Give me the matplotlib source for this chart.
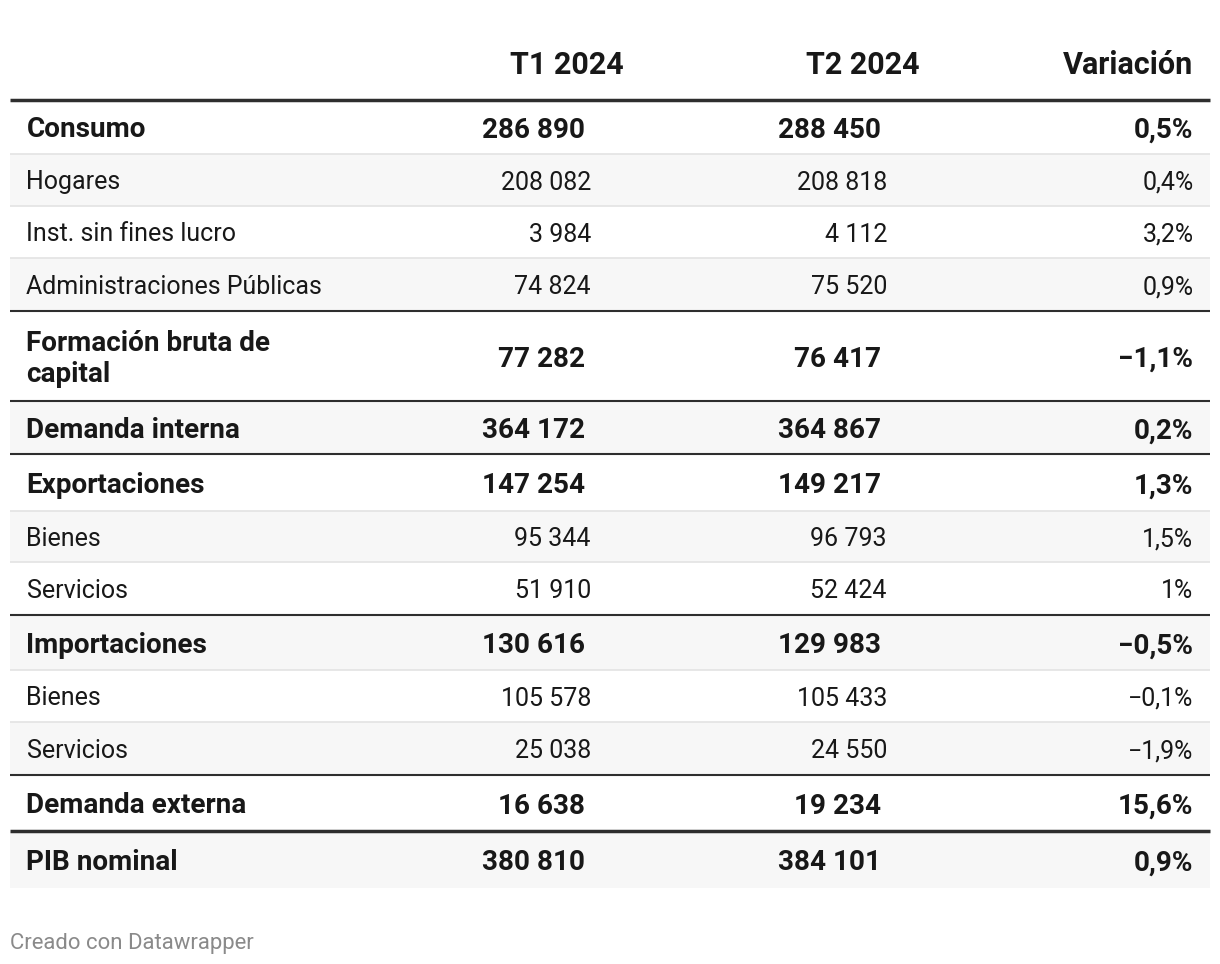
import matplotlib
matplotlib.use("Agg")
import matplotlib.pyplot as plt

plt.rcParams['font.family'] = ['Roboto', 'DejaVu Sans']

# ---- data -------------------------------------------------------------
columns = ["T1 2024", "T2 2024", "Variación"]
labels = ["Consumo", "Hogares", "Inst. sin fines lucro",
          "Administraciones Públicas", "Formación bruta de\ncapital",
          "Demanda interna", "Exportaciones", "Bienes", "Servicios",
          "Importaciones", "Bienes", "Servicios", "Demanda externa",
          "PIB nominal"]
t1 = [286890, 208082, 3984, 74824, 77282, 364172, 147254, 95344, 51910,
      130616, 105578, 25038, 16638, 380810]
t2 = [288450, 208818, 4112, 75520, 76417, 364867, 149217, 96793, 52424,
      129983, 105433, 24550, 19234, 384101]
variacion = [0.5, 0.4, 3.2, 0.9, -1.1, 0.2, 1.3, 1.5, 1.0, -0.5, -0.1, -1.9,
             15.6, 0.9]
bold = [True, False, False, False, True, True, True, False, False, True,
        False, False, True, True]

# ---- layout (pixels) ----------------------------------------------------
W, H = 1220, 964
left, right = 10, 1210
top = 100
row_h = [54, 52, 52, 53, 90, 53, 57, 51, 53, 55, 52, 53, 56, 57]
x_label = 26.5
x_t1 = {True: 585, False: 591}
x_t2 = {True: 881, False: 887}
x_var = 1193.5
head_right = [624, 920, 1193.5]

TXT = "#181818"
LINE_DARK = "#2e2e2e"
LINE_LIGHT = "#e3e3e3"
BG_ALT = "#f7f7f7"

fs_reg, fs_bold, fs_head = 18, 20.1, 22


def fmt_num(v):
    return "{:,}".format(v).replace(",", " ")


def fmt_pct(v):
    s = "{:.1f}".format(abs(v)).replace(".", ",")
    if s.endswith(",0"):
        s = s[:-2]
    return ("\u2212" if v < 0 else "") + s + "%"


def base_off(fs):
    # distance from cap centre to baseline, in pixels
    return 0.355 * fs * 100 / 72


fig = plt.figure(figsize=(W / 100, H / 100), dpi=100)
ax = fig.add_axes([0, 0, 1, 1])
ax.set_xlim(0, W)
ax.set_ylim(H, 0)
ax.axis('off')

# header
for name, xr in zip(columns, head_right):
    ax.text(xr, 63 + base_off(fs_head), name, ha='right', va='baseline',
            fontsize=fs_head, fontweight='bold', color=TXT)

# rows
y = top
tops = []
for i in range(len(labels)):
    h = row_h[i]
    tops.append(y)
    if i % 2 == 1:
        ax.barh(y + h / 2, right - left, height=h, left=left, color=BG_ALT,
                zorder=0)
    b = bold[i]
    fs = fs_bold if b else fs_reg
    fw = 'bold' if b else 'normal'
    cy = y + h / 2 + 1
    lines = labels[i].split("\n")
    lh = 31
    for k, ln in enumerate(lines):
        ly = cy + (k - (len(lines) - 1) / 2) * lh - 0.5
        ax.text(x_label, ly + base_off(fs), ln, ha='left', va='baseline',
                fontsize=fs, fontweight=fw, color=TXT)
    ax.text(x_t1[b], cy + base_off(fs), fmt_num(t1[i]), ha='right',
            va='baseline', fontsize=fs, fontweight=fw, color=TXT)
    ax.text(x_t2[b], cy + base_off(fs), fmt_num(t2[i]), ha='right',
            va='baseline', fontsize=fs, fontweight=fw, color=TXT)
    ax.text(x_var, cy + base_off(fs), fmt_pct(variacion[i]), ha='right',
            va='baseline', fontsize=fs, fontweight=fw, color=TXT)
    y += h
bottom = y

# separators
ax.hlines(top, left, right, colors=LINE_DARK, linewidth=2.5, zorder=3)
for i in range(1, len(labels)):
    if i == len(labels) - 1:
        ax.hlines(tops[i], left, right, colors=LINE_DARK, linewidth=2.5,
                  zorder=3)
    elif bold[i]:
        ax.hlines(tops[i], left, right, colors=LINE_DARK, linewidth=1.5,
                  zorder=3)
    else:
        ax.hlines(tops[i], left, right, colors=LINE_LIGHT, linewidth=1.2,
                  zorder=2)

ax.text(10, 941 + base_off(15.9), "Creado con Datawrapper", ha='left',
        va='baseline', fontsize=15.9, color="#8a8a8a")

fig.savefig("out.png", dpi=100, facecolor="white")
